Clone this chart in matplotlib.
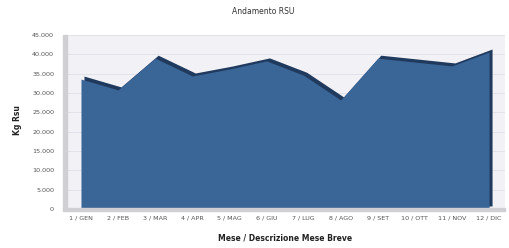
import numpy as np
import matplotlib.pyplot as plt
import matplotlib.transforms as mtransforms
from matplotlib.patches import Rectangle

mesi = ["1 / GEN", "2 / FEB", "3 / MAR", "4 / APR", "5 / MAG", "6 / GIU",
        "7 / LUG", "8 / AGO", "9 / SET", "10 / OTT", "11 / NOV", "12 / DIC"]
kg_rsu = [33600, 30800, 39000, 34400, 36200, 38300,
          34600, 28200, 39000, 38000, 37000, 40600]
y_ticks = [0, 5000, 10000, 15000, 20000, 25000, 30000, 35000, 40000, 45000]
y_tick_labels = ["0", "5.000", "10.000", "15.000", "20.000", "25.000",
                 "30.000", "35.000", "40.000", "45.000"]

W, H = 509, 248
fig = plt.figure(figsize=(W / 100, H / 100), dpi=100)
ax = fig.add_axes([68 / W, (H - 209) / H, (505 - 68) / W, (209 - 35) / H])

x = np.arange(len(mesi))
ax.set_facecolor("#f1f1f6")
for yt in y_ticks[1:]:
    ax.axhline(yt, color="#dedee8", lw=0.6, zorder=0)

# depth of the area (dark shade shifted up-right)
shift = mtransforms.offset_copy(ax.transData, fig=fig, x=3, y=3, units="dots")
ax.fill_between(x, 0, kg_rsu, color="#203a5e", lw=0, transform=shift, zorder=2)
ax.fill_between(x, 0, kg_rsu, color="#3a6597", lw=0, zorder=3)

# left wall and floor
ax.add_patch(Rectangle((-5 / 437, 0), 4 / 437, 1, transform=ax.transAxes,
                       color="#cfcfd4", clip_on=False, zorder=1))
ax.add_patch(Rectangle((-5 / 437, -2 / 174), 1 + 5 / 437, 3 / 174,
                       transform=ax.transAxes, color="#cfcfd4",
                       clip_on=False, zorder=4))

ax.set_xlim(-0.35, 11.43)
ax.set_ylim(0, 45000)
ax.set_xticks(x)
ax.set_xticklabels(mesi, fontsize=4.6, color="#555555")
ax.set_yticks(y_ticks)
ax.set_yticklabels(y_tick_labels, fontsize=4.6, color="#555555")
ax.tick_params(axis="y", length=0, pad=10)
ax.tick_params(axis="x", length=0, pad=5)
for s in ax.spines.values():
    s.set_visible(False)

fig.text(263 / W, 1 - 12 / H, "Andamento RSU", ha="center", va="center",
         fontsize=5.5, color="#333333")
fig.text(17 / W, 1 - 120 / H, "Kg Rsu", ha="center", va="center",
         rotation=90, fontsize=5.5, fontweight="bold", color="#222222")
fig.text(285 / W, 1 - 238 / H, "Mese / Descrizione Mese Breve", ha="center",
         va="center", fontsize=5.5, fontweight="bold", color="#222222")

fig.savefig("out.png", dpi=100)
